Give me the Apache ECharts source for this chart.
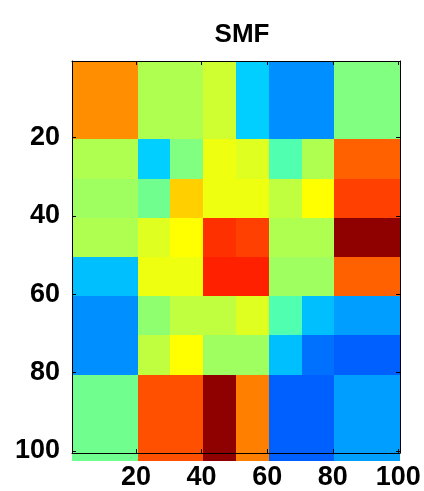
<!DOCTYPE html>
<html>
<head>
<meta charset="utf-8">
<script src="https://cdn.jsdelivr.net/npm/echarts@6/dist/echarts.min.js"></script>
<style>html,body{margin:0;padding:0;background:#fff;}#c{width:424px;height:491px;}</style>
</head>
<body>
<div id="c"></div>
<script>
// Block edges of the image, in data (pixel-index) units
var xEdges = [0.5, 20.5, 30.5, 40.5, 50.5, 60.5, 70.5, 80.5, 100.5];
var yEdges = [0.5, 20.5, 30.5, 40.5, 50.5, 60.5, 70.5, 80.5, 102.5];
// Colour index (1..64, jet colormap) of each block, rows top to bottom
var blockValues = [
  [47, 35, 35, 37, 21, 17, 17, 32],
  [35, 21, 32, 39, 38, 29, 35, 50],
  [34, 31, 43, 39, 39, 36, 40, 52],
  [35, 38, 40, 53, 52, 35, 35, 63],
  [20, 39, 39, 54, 54, 34, 34, 50],
  [17, 33, 36, 36, 38, 29, 20, 18],
  [17, 36, 40, 34, 34, 20, 15, 14],
  [31, 51, 51, 63, 48, 14, 14, 18]
];
var tickValues = [20, 40, 60, 80, 100];
var titleText = 'SMF';

function jet(i) {
  var r = 0, g = 0, b = 0;
  if (i <= 8) { b = (i + 8) / 16; }
  else if (i <= 24) { g = (i - 8) / 16; b = 1; }
  else if (i <= 40) { r = (i - 24) / 16; g = 1; b = 1 - (i - 24) / 16; }
  else if (i <= 56) { r = 1; g = 1 - (i - 40) / 16; }
  else { r = 1 - (i - 56) / 16; }
  return 'rgb(' + Math.round(r * 255) + ',' + Math.round(g * 255) + ',' + Math.round(b * 255) + ')';
}

var data = [];
for (var r = 0; r < blockValues.length; r++) {
  for (var c = 0; c < blockValues[r].length; c++) {
    data.push([xEdges[c], xEdges[c + 1], yEdges[r], yEdges[r + 1], blockValues[r][c]]);
  }
}

var FONT = 'Liberation Sans, Arial, Helvetica, sans-serif';
var labelStyle = { fontSize: 27, fontWeight: 'bold', color: '#000', fontFamily: FONT };
var lineStyle = { color: '#000', width: 1 };

var chart = echarts.init(document.getElementById('c'), null, { renderer: 'canvas' });
chart.setOption({
  animation: false,
  backgroundColor: '#fff',
  title: {
    text: titleText,
    left: 237,
    top: 17,
    textAlign: 'center',
    textStyle: { fontSize: 26, fontWeight: 'bold', color: '#000', fontFamily: FONT }
  },
  grid: { left: 72, top: 61, right: 24, bottom: 37, containLabel: false },
  xAxis: [{
    type: 'value', min: 0.5, max: 100.5, position: 'bottom', z: 10,
    axisLine: { show: true, lineStyle: lineStyle },
    axisTick: { show: true, inside: true, length: 4, lineStyle: lineStyle, customValues: tickValues },
    axisLabel: Object.assign({ margin: 11, customValues: tickValues }, labelStyle),
    splitLine: { show: false }
  }, {
    type: 'value', min: 0.5, max: 100.5, position: 'top', z: 10,
    axisLine: { show: true, lineStyle: lineStyle },
    axisTick: { show: true, inside: true, length: 4, lineStyle: lineStyle, customValues: tickValues },
    axisLabel: { show: false },
    splitLine: { show: false }
  }],
  yAxis: [{
    type: 'value', min: 0.5, max: 100.5, inverse: true, position: 'left', z: 10,
    axisLine: { show: true, lineStyle: lineStyle },
    axisTick: { show: true, inside: true, length: 4, lineStyle: lineStyle, customValues: tickValues },
    axisLabel: Object.assign({ margin: 12, customValues: tickValues }, labelStyle),
    splitLine: { show: false }
  }, {
    type: 'value', min: 0.5, max: 100.5, inverse: true, position: 'right', z: 10,
    axisLine: { show: true, lineStyle: lineStyle },
    axisTick: { show: true, inside: true, length: 4, lineStyle: lineStyle, customValues: tickValues },
    axisLabel: { show: false },
    splitLine: { show: false }
  }],
  series: [{
    type: 'custom',
    xAxisIndex: 0,
    yAxisIndex: 0,
    clip: false,
    data: data,
    encode: { x: [0, 1], y: [2, 3] },
    renderItem: function (params, api) {
      var p0 = api.coord([api.value(0), api.value(2)]);
      var p1 = api.coord([api.value(1), api.value(3)]);
      var x0 = Math.round(Math.min(p0[0], p1[0]));
      var x1 = Math.round(Math.max(p0[0], p1[0]));
      var y0 = Math.round(Math.min(p0[1], p1[1]));
      var y1 = Math.round(Math.max(p0[1], p1[1]));
      return {
        type: 'rect',
        shape: { x: x0, y: y0, width: x1 - x0, height: y1 - y0 },
        style: { fill: jet(api.value(4)) }
      };
    }
  }]
});
</script>
</body>
</html>
